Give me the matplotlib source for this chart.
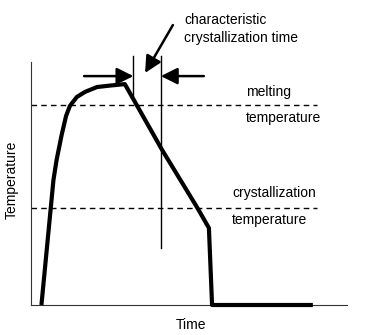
import matplotlib
matplotlib.use("Agg")
import matplotlib.pyplot as plt

plt.rcParams['font.family'] = ['Liberation Sans', 'DejaVu Sans']

# Temperature profile (arbitrary units, 0-100)
time = [3.3, 7.1, 8.1, 9.7, 11.1, 12.3, 14.5, 17.1, 20.9, 25.0, 29.7, 41.5, 52.5, 56.3, 57.3, 89.2]
temperature = [0.0, 51.4, 59.7, 70.0, 77.8, 81.9, 85.6, 87.7, 89.7, 90.3, 90.9, 63.8, 40.3, 31.7, 0.0, 0.0]

melting_temp = 82.5
crystallization_temp = 40.0
dash_end = 90.5

# characteristic crystallization time markers
t_start = 32.4
t_end = 41.1

W, H = 366, 335
fig = plt.figure(figsize=(W / 100, H / 100), dpi=100)
ax = fig.add_axes([31 / W, (H - 305) / H, 316 / W, 243 / H])
ax.set_xlim(0, 100)
ax.set_ylim(0, 100)
ax.set_xticks([])
ax.set_yticks([])
for s in ['top', 'right']:
    ax.spines[s].set_visible(False)
for s in ['left', 'bottom']:
    ax.spines[s].set_color('#333333')
    ax.spines[s].set_linewidth(0.8)

# dashed reference lines
ax.plot([0, dash_end], [melting_temp, melting_temp], color='black', lw=1.0,
        dashes=(4, 3), clip_on=False)
ax.plot([0, dash_end], [crystallization_temp, crystallization_temp], color='black',
        lw=1.0, dashes=(4, 3), clip_on=False)

# vertical markers
ax.plot([t_start, t_start], [102.5, 86.0], color='black', lw=1.0, clip_on=False)
ax.plot([t_end, t_end], [102.5, 23.5], color='black', lw=1.0, clip_on=False)

# curve
ax.plot(time, temperature, color='black', lw=3.0, solid_joinstyle='round',
        solid_capstyle='butt', clip_on=False, zorder=3)

arrow = dict(arrowstyle='-|>,head_length=1.0,head_width=0.5', color='black',
             lw=1.8, shrinkA=0, shrinkB=0, mutation_scale=10)
ax.annotate('', xy=(t_start, 94.2), xytext=(16.8, 94.2), arrowprops=arrow,
            annotation_clip=False)
ax.annotate('', xy=(t_end, 94.2), xytext=(54.7, 94.2), arrowprops=arrow,
            annotation_clip=False)
ax.annotate('', xy=(36.1, 95.5), xytext=(44.9, 115.2), arrowprops=arrow,
            annotation_clip=False)

fs = 10
ax.text(48.4, 117.3, 'characteristic', fontsize=fs, ha='left', va='center', clip_on=False)
ax.text(48.4, 109.9, 'crystallization time', fontsize=fs, ha='left', va='center', clip_on=False)
ax.text(68.0, 87.7, 'melting', fontsize=fs, ha='left', va='center')
ax.text(68.0, 77.0, 'temperature', fontsize=fs, ha='left', va='center')
ax.text(63.6, 46.1, 'crystallization', fontsize=fs, ha='left', va='center')
ax.text(63.6, 35.0, 'temperature', fontsize=fs, ha='left', va='center')

fig.text(12 / W, 1 - 180 / H, 'Temperature', fontsize=fs, rotation=90,
         ha='center', va='center')
fig.text(191 / W, 1 - 325 / H, 'Time', fontsize=fs, ha='center', va='center')

fig.savefig('out.png', dpi=100)
